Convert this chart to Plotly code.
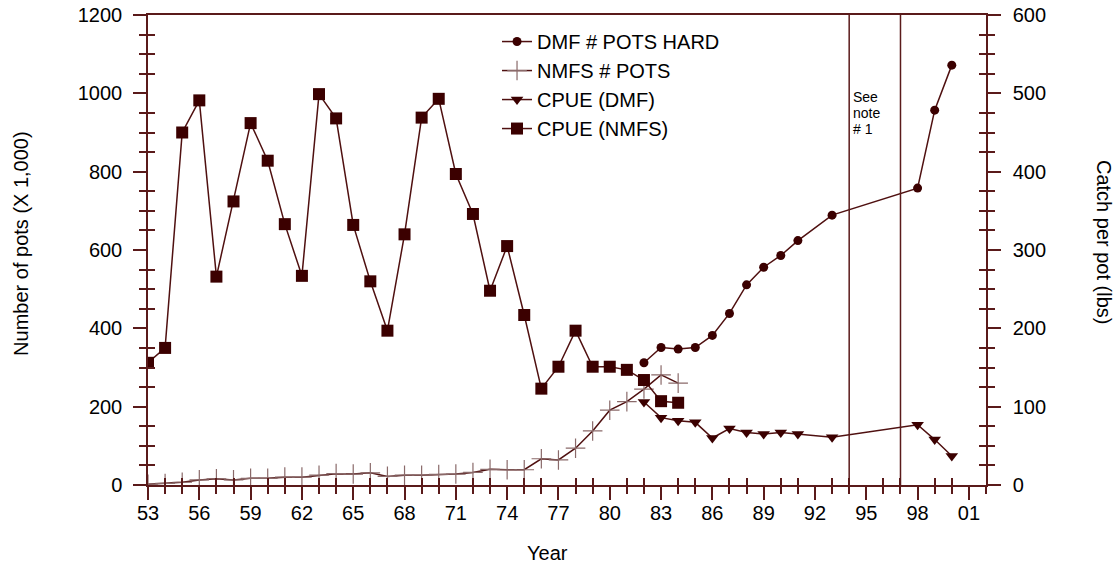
import plotly.graph_objects as go

# ---------------- data ----------------
NMFS_YEARS = list(range(1953, 1985))
CPUE_NMFS = [156, 175, 450, 491, 266, 362, 462, 414, 333, 267, 499, 468, 332, 260, 197, 320,
             469, 493, 397, 346, 248, 305, 217, 123, 151, 197, 151, 151, 147, 134, 107, 105]
NMFS_POTS = [2, 4, 7, 13, 16, 13, 17, 17, 20, 20, 25, 29, 28, 31, 22, 25,
             25, 27, 28, 32, 40, 39, 39, 67, 64, 94, 138, 191, 213, 245, 281, 260]

DMF_YEARS = [1982, 1983, 1984, 1985, 1986, 1987, 1988, 1989, 1990, 1991, 1993, 1998, 1999, 2000]
DMF_POTS = [312, 351, 347, 351, 382, 438, 511, 556, 586, 624, 689, 758, 957, 1072]
CPUE_DMF = [106, 86, 82, 80, 60, 72, 67, 65, 67, 65, 61, 77, 58, 37]

NOTE_YEARS = [1994, 1997]
NOTE_LINES = ["See", "note", "# 1"]
X_TICKS = list(range(1953, 2002, 3))
X_TICKTEXT = [f"{v % 100:02d}" for v in X_TICKS]

# ---------------- style ----------------
FONT = "Liberation Sans, Arial, sans-serif"
FS = 20
MARK = "#3b0000"
LINE = "#4f1010"
AXIS = "#5a1a1a"
PLUS = "#8a6a6a"

fig = go.Figure()

fig.add_trace(go.Scatter(
    x=DMF_YEARS, y=DMF_POTS, name="DMF # POTS HARD", mode="lines+markers",
    line=dict(color=LINE, width=1.5),
    marker=dict(symbol="circle", size=9, color=MARK),
    xaxis="x", yaxis="y", legendgroup="a"))
fig.add_trace(go.Scatter(
    x=NMFS_YEARS, y=NMFS_POTS, name="NMFS # POTS", mode="lines+markers",
    line=dict(color=LINE, width=1.5),
    marker=dict(symbol="cross-thin", size=14, color=PLUS, line=dict(color=PLUS, width=1.2)),
    xaxis="x", yaxis="y", legendgroup="b"))
fig.add_trace(go.Scatter(
    x=DMF_YEARS, y=CPUE_DMF, name="CPUE (DMF)", mode="lines+markers",
    line=dict(color=LINE, width=1.5),
    marker=dict(symbol="triangle-down", size=11, color=MARK),
    xaxis="x", yaxis="y2", legendgroup="c"))
fig.add_trace(go.Scatter(
    x=NMFS_YEARS, y=CPUE_NMFS, name="CPUE (NMFS)", mode="lines+markers",
    line=dict(color=LINE, width=1.5),
    marker=dict(symbol="square", size=12, color=MARK),
    xaxis="x", yaxis="y2", legendgroup="d"))

# empty traces so the overlay (inner minor tick) axes are drawn
fig.add_trace(go.Scatter(x=[], y=[], xaxis="x2", yaxis="y3", showlegend=False, hoverinfo="skip"))
fig.add_trace(go.Scatter(x=[], y=[], xaxis="x2", yaxis="y4", showlegend=False, hoverinfo="skip"))

x_minor = [v for v in range(1953, 2003) if v not in X_TICKS]
yl_minor = [v for v in range(0, 1201, 50) if v % 200]
yr_minor = [v for v in range(0, 601, 25) if v % 100]

tickstyle = dict(showgrid=False, zeroline=False, tickcolor=AXIS, tickwidth=1.5)
tfont = dict(tickfont=dict(family=FONT, size=FS, color="black"), ticklabeloverflow="allow")

fig.update_layout(
    width=1118, height=566,
    margin=dict(l=148, r=132, t=15, b=81, autoexpand=False),
    paper_bgcolor="white", plot_bgcolor="white",
    font=dict(family=FONT, size=FS, color="black"),
    showlegend=True,
    legend=dict(x=0.4165, y=0.985, xanchor="left", yanchor="top",
                bgcolor="rgba(0,0,0,0)", font=dict(family=FONT, size=FS, color="black"),
                traceorder="grouped", tracegroupgap=0, itemwidth=30),
    xaxis=dict(range=[1953, 2002], showline=True, linecolor=AXIS, linewidth=1.5, mirror=True,
               tickmode="array", tickvals=X_TICKS, ticktext=X_TICKTEXT,
               ticks="outside", ticklen=13, ticklabelstandoff=-4,
               minor=dict(tickmode="linear", tick0=1953, dtick=1, ticks="outside",
                          ticklen=7, tickcolor=AXIS, tickwidth=1.5),
               **tickstyle, **tfont),
    xaxis2=dict(range=[1953, 2002], overlaying="x", anchor="y", side="bottom",
                showline=False, showticklabels=False, tickmode="array", tickvals=x_minor,
                ticks="inside", ticklen=7, **tickstyle),
    yaxis=dict(range=[0, 1200], showline=True, linecolor=AXIS, linewidth=1.5,
               tickmode="linear", tick0=0, dtick=200, ticks="outside", ticklen=13,
               ticklabelstandoff=7,
               minor=dict(tickmode="linear", tick0=0, dtick=50, ticks="outside",
                          ticklen=7, tickcolor=AXIS, tickwidth=1.5),
               **tickstyle, **tfont),
    yaxis2=dict(range=[0, 600], overlaying="y", side="right", anchor="x",
                showline=True, linecolor=AXIS, linewidth=1.5,
                tickmode="linear", tick0=0, dtick=100, ticks="outside", ticklen=13,
                ticklabelstandoff=8,
                minor=dict(tickmode="linear", tick0=0, dtick=25, ticks="outside",
                           ticklen=7, tickcolor=AXIS, tickwidth=1.5),
                **tickstyle, **tfont),
    yaxis3=dict(range=[0, 1200], overlaying="y", side="left", anchor="x",
                showline=False, showticklabels=False, tickmode="array", tickvals=yl_minor,
                ticks="inside", ticklen=7, **tickstyle),
    yaxis4=dict(range=[0, 600], overlaying="y", side="right", anchor="x",
                showline=False, showticklabels=False, tickmode="array", tickvals=yr_minor,
                ticks="inside", ticklen=7, **tickstyle),
)

for yr in NOTE_YEARS:
    fig.add_shape(type="line", xref="x", yref="paper", x0=yr, x1=yr, y0=0, y1=1,
                  line=dict(color=AXIS, width=1.5))

for i, txt in enumerate(NOTE_LINES):
    fig.add_annotation(x=NOTE_YEARS[0], xref="x", xshift=2, xanchor="left",
                       y=0.8255, yref="paper", yshift=-16 * i, yanchor="middle", align="left",
                       text=txt, showarrow=False,
                       font=dict(family=FONT, size=14, color="black"))

fig.add_annotation(x=-0.1516, xref="paper", y=0.515, yref="paper",
                   text="Number of pots (X 1,000)", textangle=-90, showarrow=False,
                   xanchor="center", yanchor="middle",
                   font=dict(family=FONT, size=FS, color="black"))
fig.add_annotation(x=1.1408, xref="paper", y=0.515, yref="paper",
                   text="Catch per pot (lbs)", textangle=90, showarrow=False,
                   xanchor="center", yanchor="middle",
                   font=dict(family=FONT, size=FS, color="black"))
fig.add_annotation(x=0.4773, xref="paper", y=-0.1447, yref="paper",
                   text="Year", showarrow=False, xanchor="center", yanchor="middle",
                   font=dict(family=FONT, size=FS, color="black"))

# remove the default 8px page margin so the figure fills the window exactly
fig.write_html("out.html", config={"displayModeBar": False},
               post_script="document.body.style.margin='0px';")
